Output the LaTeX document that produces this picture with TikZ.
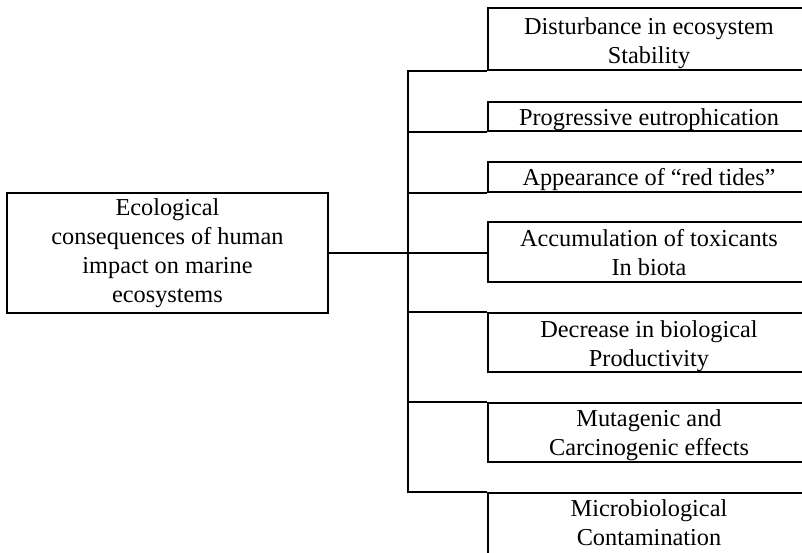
\documentclass[tikz,border=0pt]{standalone}
\usepackage{fontspec}
\setmainfont{Liberation Serif}
\begin{document}
\begin{tikzpicture}[x=1pt,y=-1pt,
  frame/.style={draw, line width=1.8pt, rectangle, inner sep=0pt},
  txt/.style={align=center, inner sep=0pt, font=\fontsize{24.3}{29}\selectfont, anchor=base},
  wire/.style={line width=1.8pt}]
\path[use as bounding box, clip] (0,0) rectangle (802,552);

% main box on the left (text placed by its last baseline)
\node[frame, minimum width=321pt, minimum height=120pt] (eco) at (167.5,253) {};
\node[txt] (ecoT) at (167.5,302) {Ecological\\consequences of human\\impact on marine\\ecosystems};

% consequence boxes; their right ends run past the page edge
\node[frame, minimum width=322pt, minimum height=62pt] (dist)   at (649,39)    {};
\node[frame, minimum width=322pt, minimum height=29pt] (prog)   at (649,116.5) {};
\node[frame, minimum width=322pt, minimum height=30pt] (appear) at (649,177)   {};
\node[frame, minimum width=322pt, minimum height=60pt] (acc)    at (649,252)   {};
\node[frame, minimum width=322pt, minimum height=59pt] (decr)   at (649,342.5) {};
\node[frame, minimum width=322pt, minimum height=59pt] (mut)    at (649,432.5) {};
\node[frame, minimum width=322pt, minimum height=70pt] (micro)  at (649,528)   {};

\node[txt] (distT)   at (649,63)  {Disturbance in ecosystem\\Stability};
\node[txt] (progT)   at (649,125) {Progressive eutrophication};
\node[txt] (appearT) at (649,185) {Appearance of “red tides”};
\node[txt] (accT)    at (649,275) {Accumulation of toxicants\\In biota};
\node[txt] (decrT)   at (649,366) {Decrease in biological\\Productivity};
\node[txt] (mutT)    at (649,455) {Mutagenic and\\Carcinogenic effects};
\node[txt] (microT)  at (649,545) {Microbiological\\Contamination};

% bus line joining the consequence boxes
\coordinate (busx) at (408,0);
\draw[wire] (dist.south west) -- (dist.south west -| busx)
  -- (micro.north west -| busx) -- (micro.north west);
\draw[wire] (prog.south west) -- (prog.south west -| busx);
\draw[wire] (appear.south west) -- (appear.south west -| busx);
\draw[wire] (decr.north west) -- (decr.north west -| busx);
\draw[wire] (mut.north west) -- (mut.north west -| busx);

% link from the main box
\draw[wire] (eco.east) -- (eco.east -| acc.west);
\end{tikzpicture}
\end{document}
